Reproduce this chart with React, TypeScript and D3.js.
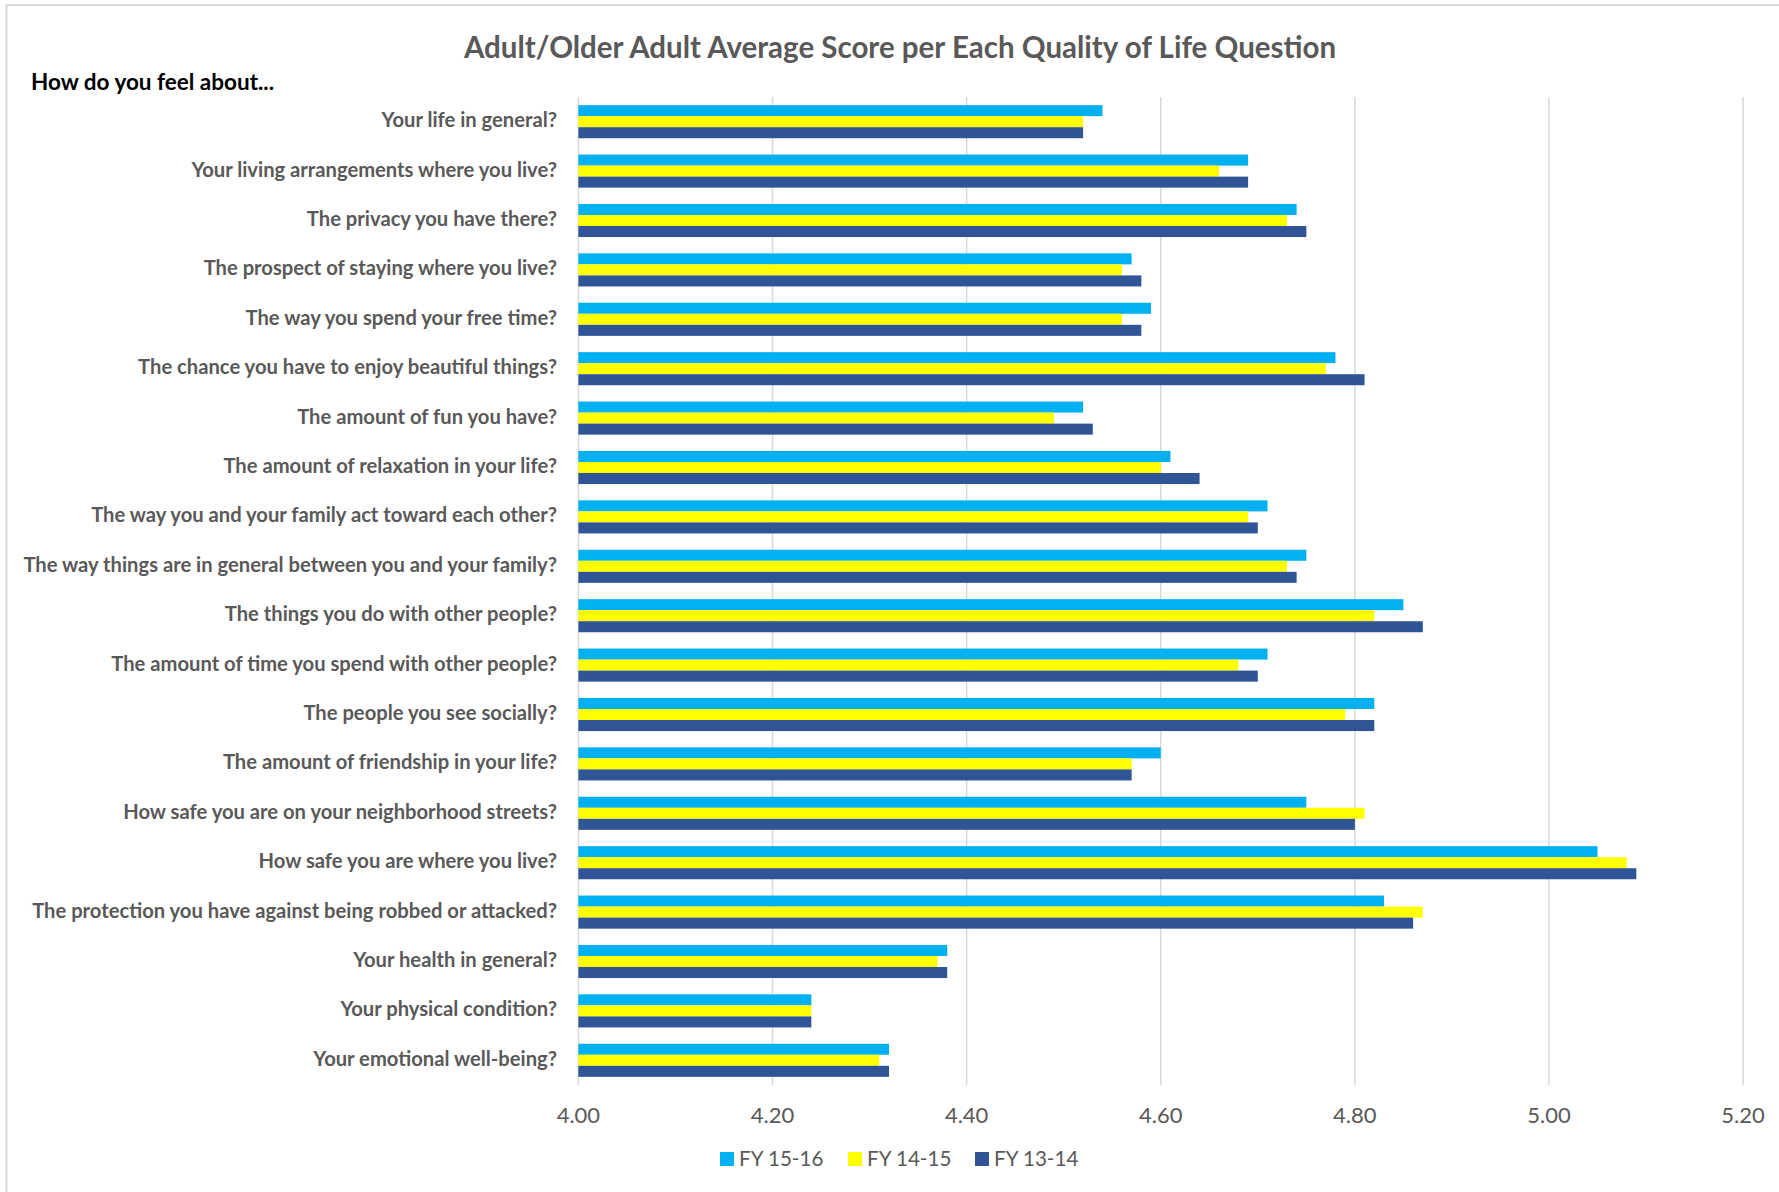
import React from 'react';
import * as d3 from 'd3';

const categories = [
  'Your life in general?',
  'Your living arrangements where you live?',
  'The privacy you have there?',
  'The prospect of staying where you live?',
  'The way you spend your free time?',
  'The chance you have to enjoy beautiful things?',
  'The amount of fun you have?',
  'The amount of relaxation in your life?',
  'The way you and your family act toward each other?',
  'The way things are in general between you and your family?',
  'The things you do with other people?',
  'The amount of time you spend with other people?',
  'The people you see socially?',
  'The amount of friendship in your life?',
  'How safe you are on your neighborhood streets?',
  'How safe you are where you live?',
  'The protection you have against being robbed or attacked?',
  'Your health in general?',
  'Your physical condition?',
  'Your emotional well-being?',
];

const fy1516 = [4.54, 4.69, 4.74, 4.57, 4.59, 4.78, 4.52, 4.61, 4.71, 4.75, 4.85, 4.71, 4.82, 4.60, 4.75, 5.05, 4.83, 4.38, 4.24, 4.32];
const fy1415 = [4.52, 4.66, 4.73, 4.56, 4.56, 4.77, 4.49, 4.60, 4.69, 4.73, 4.82, 4.68, 4.79, 4.57, 4.81, 5.08, 4.87, 4.37, 4.24, 4.31];
const fy1314 = [4.52, 4.69, 4.75, 4.58, 4.58, 4.81, 4.53, 4.64, 4.70, 4.74, 4.87, 4.70, 4.82, 4.57, 4.80, 5.09, 4.86, 4.38, 4.24, 4.32];

const seriesNames = ['FY 15-16', 'FY 14-15', 'FY 13-14'];
const seriesColors = ['#00B0F0', '#FFFF00', '#2F5597'];
const xTicks = [4.0, 4.2, 4.4, 4.6, 4.8, 5.0, 5.2];

const titleText = 'Adult/Older Adult Average Score per Each Quality of Life Question';
const subTitleText = 'How do you feel about...';

const W = 1779;
const H = 1192;
const FONT = "Lato, 'Open Sans', 'DejaVu Sans', sans-serif";

export default function App() {
  const seriesValues = [fy1516, fy1415, fy1314];

  const x = d3.scaleLinear().domain([4.0, 5.2]).range([578.4, 1743.1]);
  const y = d3
    .scaleBand<string>()
    .domain(categories)
    .range([97, 1085])
    .paddingInner(0.33)
    .paddingOuter(0.165);
  const ySub = d3
    .scaleBand<string>()
    .domain(seriesNames)
    .range([0, y.bandwidth()]);

  const plotTop = 97;
  const plotBottom = 1085;

  const legendX = [720, 848, 975];

  return (
    <svg
      width={W}
      height={H}
      style={{ position: 'absolute', left: 0, top: 0, background: '#fff' }}
      fontFamily={FONT}
    >
      <rect x={0} y={0} width={W} height={H} fill="#fff" />
      {/* chart border */}
      <line x1={6.5} x2={W} y1={5} y2={5} stroke="#d9d9d9" strokeWidth={2} />
      <line x1={6.5} x2={6.5} y1={4} y2={H} stroke="#d9d9d9" strokeWidth={2} />

      {/* title */}
      <text
        x={900}
        y={58}
        textAnchor="middle"
        fontSize={29.5}
        fontWeight="bold"
        fill="#595959"
      >
        {titleText}
      </text>
      <text x={31} y={90} fontSize={22.5} fontWeight="bold" fill="#000">
        {subTitleText}
      </text>

      {/* gridlines */}
      {xTicks.map((t) => (
        <line
          key={'g' + t}
          x1={x(t)}
          x2={x(t)}
          y1={plotTop}
          y2={plotBottom}
          stroke="#d9d9d9"
          strokeWidth={1.5}
        />
      ))}

      {/* bars */}
      {categories.map((c, i) => (
        <g key={c} transform={`translate(0,${y(c)})`}>
          {seriesNames.map((s, j) => (
            <rect
              key={s}
              x={x(4.0)}
              y={ySub(s)}
              width={x(seriesValues[j][i]) - x(4.0)}
              height={ySub.bandwidth()}
              fill={seriesColors[j]}
            />
          ))}
        </g>
      ))}

      {/* category labels */}
      {categories.map((c) => (
        <text
          key={'l' + c}
          x={557}
          y={(y(c) as number) + y.bandwidth() / 2}
          dy="0.27em"
          textAnchor="end"
          fontSize={20.2}
          fontWeight="bold"
          fill="#595959"
        >
          {c}
        </text>
      ))}

      {/* x tick labels */}
      {xTicks.map((t) => (
        <text
          key={'t' + t}
          x={x(t)}
          y={1123}
          textAnchor="middle"
          fontSize={22}
          fill="#595959"
        >
          {d3.format('.2f')(t)}
        </text>
      ))}

      {/* legend */}
      {seriesNames.map((s, j) => (
        <g key={'lg' + s} transform={`translate(${legendX[j]},1152)`}>
          <rect x={0} y={0} width={14} height={14} fill={seriesColors[j]} />
          <text x={19} y={14} fontSize={20.6} fill="#595959">
            {s}
          </text>
        </g>
      ))}
    </svg>
  );
}
